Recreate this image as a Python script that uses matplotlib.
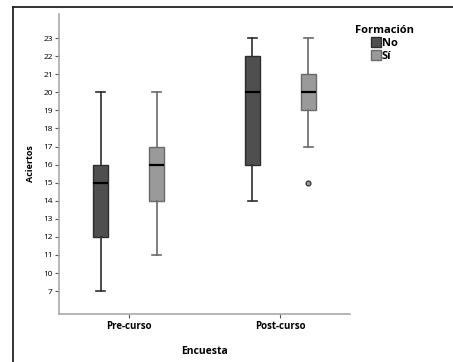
import matplotlib
matplotlib.use("Agg")
import matplotlib.pyplot as plt
import numpy as np
from matplotlib.patches import Patch
from matplotlib.lines import Line2D

plt.rcParams['font.family'] = ['Open Sans', 'DejaVu Sans']

# data
encuestas = ["Pre-curso", "Post-curso"]
formacion = ["No", "Sí"]
colores = {"No": "#4f4f4f", "Sí": "#9a9a9a"}
bordes = {"No": "#2e2e2e", "Sí": "#6a6a6a"}

bigotes_inf = {"No": [7, 14], "Sí": [11, 17]}
q1 = {"No": [12, 16], "Sí": [14, 19]}
medianas = {"No": [15, 20], "Sí": [16, 20]}
q3 = {"No": [16, 22], "Sí": [17, 21]}
bigotes_sup = {"No": [20, 23], "Sí": [20, 23]}
atipicos = {"No": [[], []], "Sí": [[], [15]]}

yticks = [7, 10, 11, 12, 13, 14, 15, 16, 17, 18, 19, 20, 21, 22, 23]


# the original axis squeezes the part below 10
def fwd(y):
    y = np.asarray(y, dtype=float)
    return np.where(y < 10, 10 - (10 - y) / 3.0, y)


def inv(t):
    t = np.asarray(t, dtype=float)
    return np.where(t < 10, 10 - (10 - t) * 3.0, t)


fig = plt.figure(figsize=(4.53, 3.62), dpi=100)
ax = fig.add_axes([0.1302, 0.1326, 0.6424, 0.8287])
ax.set_yscale('function', functions=(fwd, inv))

offs = {"No": -0.185, "Sí": 0.185}
for f in formacion:
    stats = []
    for i in range(len(encuestas)):
        stats.append(dict(whislo=bigotes_inf[f][i], q1=q1[f][i], med=medianas[f][i],
                          q3=q3[f][i], whishi=bigotes_sup[f][i], fliers=atipicos[f][i]))
    pos = [i + offs[f] for i in range(len(encuestas))]
    ax.bxp(stats, positions=pos, widths=0.1, patch_artist=True, showfliers=True,
           boxprops=dict(facecolor=colores[f], edgecolor=bordes[f], linewidth=1),
           medianprops=dict(color="black", linewidth=1.6),
           whiskerprops=dict(color=bordes[f], linewidth=1.2),
           capprops=dict(color=bordes[f], linewidth=1.2),
           capwidths=0.06,
           flierprops=dict(marker='o', markersize=3.5, markerfacecolor='#9a9a9a',
                           markeredgecolor='#333333', markeredgewidth=0.9))

ax.set_xlim(-0.46, 1.46)
ax.set_ylim(3.2, 24.33)
ax.set_xticks(range(len(encuestas)))
ax.set_xticklabels(encuestas, fontsize=7, fontweight='bold')
ax.set_yticks(yticks)
ax.set_yticklabels([str(v) for v in yticks], fontsize=6)
ax.yaxis.set_minor_locator(matplotlib.ticker.NullLocator())
ax.tick_params(axis='y', length=3, width=0.8, color='#555555', pad=1.5)
ax.tick_params(axis='x', length=3, width=0.8, color='#555555', pad=2)

for s in ['top', 'right']:
    ax.spines[s].set_visible(False)
for s in ['left', 'bottom']:
    ax.spines[s].set_color('#aaaaaa')
    ax.spines[s].set_linewidth(1.2)

ax.set_ylabel("Aciertos", fontsize=6.5, fontweight='bold', labelpad=6)
ax.set_xlabel("Encuesta", fontsize=7.5, fontweight='bold', labelpad=10)

handles = [Patch(facecolor=colores[f], edgecolor=bordes[f], label=f) for f in formacion]
leg = fig.legend(handles=handles, title="Formación", loc='upper left',
                 bbox_to_anchor=(347 / 453, 1 - 17 / 362), frameon=False,
                 fontsize=8, title_fontproperties={'weight': 'bold', 'size': 8},
                 handlelength=0.9, handleheight=1.0, handletextpad=0.1,
                 labelspacing=0.12, borderpad=0.2)
for t in leg.get_texts():
    t.set_fontweight('bold')

# frame lines of the original picture
fig.add_artist(Line2D([12.5 / 453, 12.5 / 453], [0, 1 - 7 / 362], color='#222222', linewidth=1.3))
fig.add_artist(Line2D([12.5 / 453, 1], [1 - 7 / 362, 1 - 7 / 362], color='#222222', linewidth=1.3))

fig.savefig("out.png", dpi=100)
